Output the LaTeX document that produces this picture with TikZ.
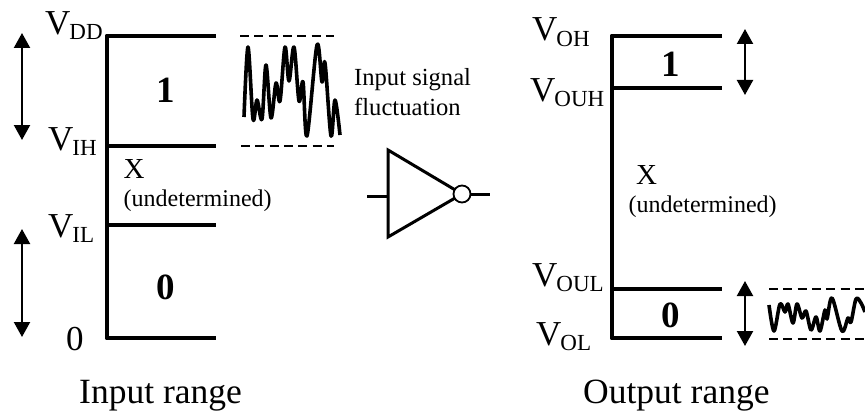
\documentclass[tikz,border=0pt]{standalone}
\usepackage{fontspec}
\setmainfont{Liberation Serif}
\usetikzlibrary{arrows.meta}
\newcommand{\volt}[1]{\fontsize{35}{35}\selectfont V\kern-1pt\raisebox{-5.5pt}{\fontsize{23}{23}\selectfont #1}}
\tikzset{
 x=1pt,y=-1pt,
 rail/.style={line width=4pt,line cap=butt},
 dbl/.style={line width=2.2pt,{Triangle[length=15pt,width=16pt]}-{Triangle[length=15pt,width=16pt]}},
 dashline/.style={line width=1.6pt,dash pattern=on 9pt off 5.3pt},
 wave/.style={line width=3.6pt,line join=round,tension=0.55},
 lab/.style={inner sep=0pt,anchor=base west},
 smalltext/.style={lab,font=\fontsize{24}{24}\selectfont},
 sigtext/.style={lab,font=\fontsize{24.6}{24.6}\selectfont},
 xlab/.style={lab,font=\fontsize{29}{29}\selectfont},
 title/.style={lab,font=\fontsize{35.5}{35.5}\selectfont},
 digit/.style={inner sep=0pt,font=\fontsize{37}{37}\selectfont\bfseries},
 gate/.style={line width=3pt,line join=miter}
}
\begin{document}
\begin{tikzpicture}
\useasboundingbox (0,0) rectangle (865,412);
% input rails
\coordinate (ia) at (106.7,35.7); \coordinate (ib) at (106.7,145.7); \coordinate (ic) at (106.7,225); \coordinate (id) at (106.7,338.3);
\coordinate (iae) at (216,35.7); \coordinate (ibe) at (216,145.7); \coordinate (ice) at (216,225); \coordinate (ide) at (216,338.3);
\draw[rail,line join=round] (iae) -- (ia) -- (id) -- (ide);
\draw[rail] (ib) -- (ibe); \draw[rail] (ic) -- (ice);
% output rails
\coordinate (oa) at (611.7,35.7); \coordinate (ob) at (611.7,88.3); \coordinate (oc) at (611.7,289.3); \coordinate (od) at (611.7,338.3);
\coordinate (oae) at (722,35.7); \coordinate (obe) at (722,88.3); \coordinate (oce) at (722,289.3); \coordinate (ode) at (722,338.3);
\draw[rail,line join=round] (oae) -- (oa) -- (od) -- (ode);
\draw[rail] (ob) -- (obe); \draw[rail] (oc) -- (oce);
% arrows
\coordinate (a1t) at (22,33); \coordinate (a1b) at (22,140);
\coordinate (a2t) at (22,229); \coordinate (a2b) at (22,337);
\coordinate (a3t) at (745,29); \coordinate (a3b) at (745,95);
\coordinate (a4t) at (745,281); \coordinate (a4b) at (745,346);
\draw[dbl] (a1t) -- (a1b); \draw[dbl] (a2t) -- (a2b); \draw[dbl] (a3t) -- (a3b); \draw[dbl] (a4t) -- (a4b);
% dashed
\coordinate (d1a) at (240,36); \coordinate (d1b) at (334,36);
\coordinate (d2a) at (241,146); \coordinate (d2b) at (334,146);
\coordinate (d3a) at (769,289); \coordinate (d3b) at (865,289);
\coordinate (d4a) at (769,339); \coordinate (d4b) at (865,339);
\draw[dashline] (d1a) -- (d1b); \draw[dashline] (d2a) -- (d2b); \draw[dashline] (d3a) -- (d3b); \draw[dashline] (d4a) -- (d4b);
% waves
\draw[wave] plot[smooth] coordinates {(244,117) (248,47) (253,119) (257,100) (262,119) (266,65) (271,118) (276,83) (280,101) (285,47) (289,81) (294,47) (299,101) (303,82) (307,136) (317,45) (322,82) (325,63) (331,136) (335,100) (340,135)};
\draw[wave] plot[smooth] coordinates {(769,305) (774,331) (780,304) (785,312) (788,304) (793,323) (797,304) (802,318) (806,311) (811,330) (816,317) (820,331) (825,310) (827,319) (832,298) (842,331) (848,318) (851,322) (856,299) (861,303) (865,312)};
% inverter
\coordinate (gt) at (388,150); \coordinate (gb) at (388,237); \coordinate (gtip) at (462,194);
\draw[gate] (gb) -- (gt) -- (gtip) -- cycle;
\node[circle,draw,line width=1.8pt,fill=white,minimum size=17pt,inner sep=0pt] (bub) at (462,194) {};
\coordinate (gin) at (367,196); \coordinate (gi2) at (388,196); \coordinate (gout) at (490,194);
\draw[gate] (gin) -- (gi2);
\draw[gate] (bub) -- (gout);
% labels
\node[lab] (vdd) at (45,34.5) {\volt{DD}};
\node[lab] (vih) at (48,150) {\volt{IH}};
\node[lab] (vil) at (48,237) {\volt{IL}};
\node[lab,font=\fontsize{35}{35}\selectfont] (zero) at (66,350) {0};
\node[lab] (voh) at (532,41) {\volt{OH}};
\node[lab] (vouh) at (530,101) {\volt{OUH}};
\node[lab] (voul) at (532,286) {\volt{OUL}};
\node[lab] (vol) at (536,345) {\volt{OL}};
\node[digit] (n1) at (166,90.5) {1};
\node[digit] (n0) at (166,287) {0};
\node[digit] (m1) at (671,64) {1};
\node[digit] (m0) at (670.5,315.7) {0};
\node[xlab] (x1) at (123.5,178) {X};
\node[smalltext] (u1) at (123.5,206.5) {(undetermined)};
\node[xlab] (x2) at (636,184) {X};
\node[smalltext] (u2) at (628.5,212) {(undetermined)};
\node[sigtext] (s1) at (354,85) {Input signal};
\node[sigtext] (s2) at (354,115) {fluctuation};
\node[title] (ir) at (79,403) {Input range};
\node[title] (or) at (583,403) {Output range};
\end{tikzpicture}
\end{document}
